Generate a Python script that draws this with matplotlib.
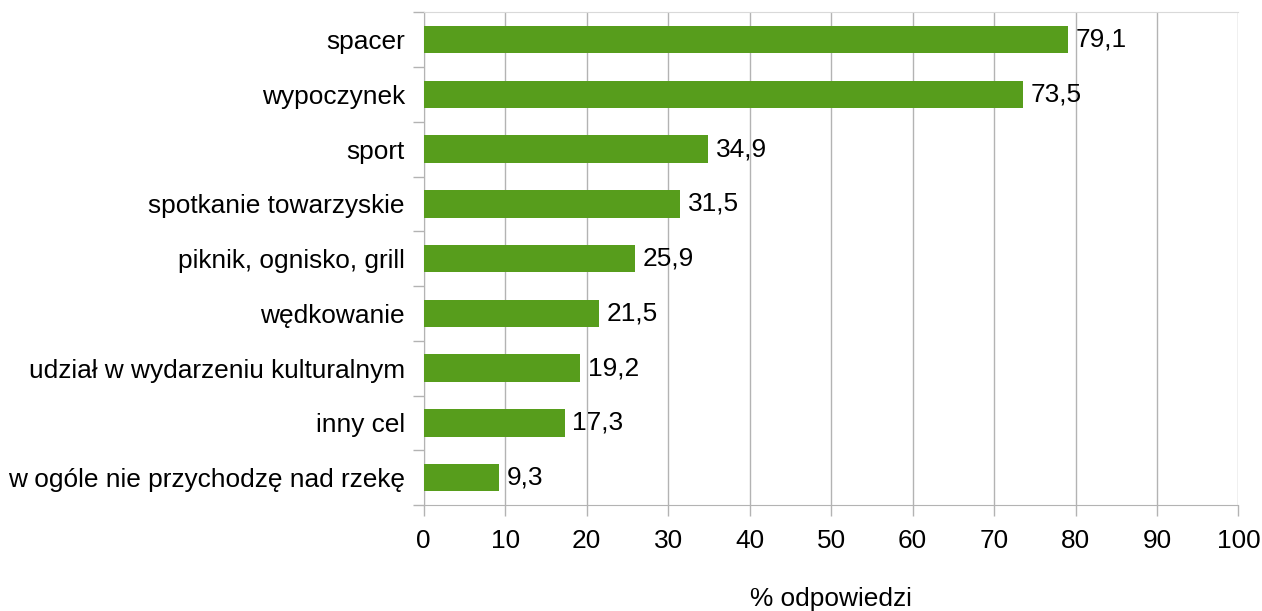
import matplotlib
matplotlib.use("Agg")
import matplotlib.pyplot as plt
import numpy as np

categories = ["spacer", "wypoczynek", "sport", "spotkanie towarzyskie",
              "piknik, ognisko, grill", "wędkowanie",
              "udział w wydarzeniu kulturalnym", "inny cel",
              "w ogóle nie przychodzę nad rzekę"]
values = [79.1, 73.5, 34.9, 31.5, 25.9, 21.5, 19.2, 17.3, 9.3]
x_ticks = [0, 10, 20, 30, 40, 50, 60, 70, 80, 90, 100]
x_label = "% odpowiedzi"

plt.rcParams['font.family'] = ['Liberation Sans', 'DejaVu Sans']
FS = 18.9
W, H = 1262, 611
fig = plt.figure(figsize=(W/100, H/100), dpi=100)
left, right, top, bottom = 423.7, 1238.5, 12.3, 505
ax = fig.add_axes([left/W, 1-bottom/H, (right-left)/W, (bottom-top)/H])

grid_c = '#b3b3b3'
n = len(categories)
ypos = np.arange(n)
ax.barh(ypos, values, height=0.5, color='#579d1c', zorder=3)
ax.set_ylim(n-0.5, -0.5)
ax.set_xlim(0, 100)
for y, v in zip(ypos, values):
    ax.annotate(f"{v:.1f}".replace('.', ','), xy=(v, y), xytext=(5.5, 0),
                textcoords='offset points', va='center', ha='left',
                fontsize=FS, color='black', zorder=4)

ax.set_xticks(x_ticks)
ax.set_xticklabels([str(t) for t in x_ticks], fontsize=FS)
ax.set_yticks(ypos)
ax.set_yticklabels(categories, fontsize=FS)
ax.tick_params(axis='y', length=0, pad=13.5)
ax.set_yticks(np.arange(n+1) - 0.5, minor=True)
ax.tick_params(axis='y', which='minor', length=8, color=grid_c, width=1)
ax.tick_params(axis='x', length=8, color=grid_c, width=1, pad=9)
ax.grid(axis='x', color=grid_c, linewidth=1, zorder=0)
for s in ['left', 'bottom']:
    ax.spines[s].set_color(grid_c)
ax.spines['right'].set_visible(False)
ax.spines['top'].set_color('#d9d9d9')
ax.set_xlabel(x_label, fontsize=FS, va='center')
ax.xaxis.set_label_coords(0.5, -94/(bottom-top))

fig.savefig("out.png", dpi=100)
